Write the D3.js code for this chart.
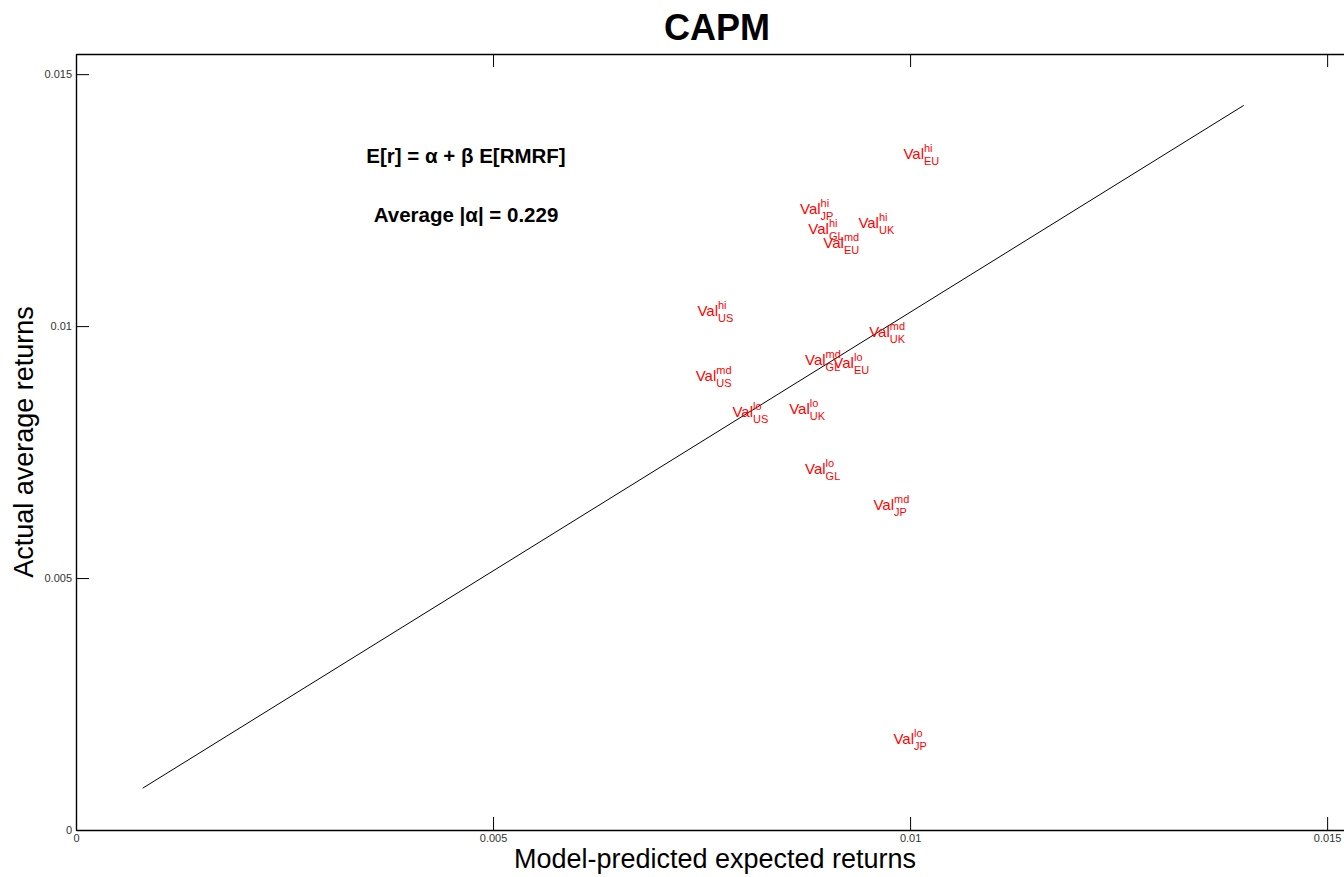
<!DOCTYPE html>
<html>
<head>
<meta charset="utf-8">
<script src="https://cdn.jsdelivr.net/npm/d3@7"></script>
<style>
  html, body { margin: 0; background: #fff; overflow: hidden; }
  svg { display: block; overflow: hidden; font-family: "Liberation Sans", Arial, sans-serif; }
</style>
</head>
<body>
<svg id="chart"></svg>
<script>
// portfolio labels: Val^{tercile}_{region}
const regions   = ["EU", "JP", "GL", "UK", "EU", "US", "US", "US", "GL", "EU", "UK", "UK", "GL", "JP", "JP"];
const terciles  = ["hi", "hi", "hi", "hi", "md", "hi", "md", "lo", "md", "lo", "md", "lo", "lo", "md", "lo"];
// model-predicted (x) and actual average (y) returns
const predicted = [0.00992, 0.00868, 0.00878, 0.00938, 0.00896, 0.00745, 0.00743, 0.00787, 0.00874, 0.00908, 0.00951, 0.00855, 0.00874, 0.00956, 0.00980];
const actual    = [0.01343, 0.01233, 0.01193, 0.01205, 0.01166, 0.01031, 0.00901, 0.00830, 0.00933, 0.00927, 0.00989, 0.00836, 0.00717, 0.00645, 0.00182];
// fitted line endpoints
const lineX = [0.00080, 0.01400];
const lineY = [0.00083, 0.01438];
const xTicks = [0, 0.005, 0.01, 0.015];
const yTicks = [0, 0.005, 0.01, 0.015];

const width = 1344;
const height = 877;
const margin = {top: 54, left: 76};
const plotRight = 1358;
const plotBottom = 830;

const svg = d3.select('#chart')
  .attr('width', width)
  .attr('height', height);

const data = regions.map((r, i) => ({region: r, tercile: terciles[i], x: predicted[i], y: actual[i]}));

// scales
const xScale = d3.scaleLinear().domain([0, 0.01537]).range([margin.left, plotRight]);
const yScale = d3.scaleLinear().domain([0, 0.0154]).range([plotBottom, margin.top]);

const fmt = d => String(d);

// axes, ticks pointing inward
svg.append('g')
  .attr('transform', `translate(0, ${plotBottom})`)
  .call(d3.axisBottom(xScale).tickValues(xTicks).tickFormat(fmt).tickSize(-13).tickSizeOuter(0).tickPadding(4));

svg.append('g')
  .attr('transform', `translate(0, ${margin.top})`)
  .call(d3.axisTop(xScale).tickValues(xTicks).tickFormat('').tickSize(-13).tickSizeOuter(0));

svg.append('g')
  .attr('transform', `translate(${margin.left}, 0)`)
  .call(d3.axisLeft(yScale).tickValues(yTicks).tickFormat(fmt).tickSize(-13).tickSizeOuter(0).tickPadding(4));

svg.selectAll('.domain').attr('stroke', '#000').attr('stroke-width', 1.4);
svg.selectAll('.tick line').attr('stroke', '#000');
svg.selectAll('.tick text')
  .attr('fill', '#333')
  .style('font-size', '11px')
  .style('font-family', '"Liberation Sans", Arial, sans-serif');

// fitted line
svg.append('line')
  .attr('x1', xScale(lineX[0]))
  .attr('y1', yScale(lineY[0]))
  .attr('x2', xScale(lineX[1]))
  .attr('y2', yScale(lineY[1]))
  .attr('stroke', '#000')
  .attr('stroke-width', 1);

// portfolio labels
const labels = svg.selectAll('.lbl')
  .data(data)
  .enter().append('g')
  .attr('class', 'lbl')
  .attr('transform', d => `translate(${xScale(d.x)}, ${yScale(d.y)})`);

labels.each(function(d) {
  const g = d3.select(this);
  const base = g.append('text')
    .attr('x', 0)
    .attr('y', 5.5)
    .attr('fill', 'red')
    .style('font-size', '15px')
    .text('Val');
  const w = base.node().getComputedTextLength();
  g.append('text')
    .attr('x', w)
    .attr('y', -1.5)
    .attr('fill', 'red')
    .style('font-size', '11px')
    .text(d.tercile);
  g.append('text')
    .attr('x', w)
    .attr('y', 11.5)
    .attr('fill', 'red')
    .style('font-size', '11px')
    .text(d.region);
});

// annotations
svg.append('text')
  .attr('x', 466)
  .attr('y', 163)
  .attr('text-anchor', 'middle')
  .style('font-size', '20.5px')
  .style('font-weight', 'bold')
  .text('E[r] = α + β E[RMRF]');

svg.append('text')
  .attr('x', 466)
  .attr('y', 222)
  .attr('text-anchor', 'middle')
  .style('font-size', '20.5px')
  .style('font-weight', 'bold')
  .text('Average |α| = 0.229');

// title and axis labels
svg.append('text')
  .attr('x', 717)
  .attr('y', 40)
  .attr('text-anchor', 'middle')
  .style('font-size', '36px')
  .style('font-weight', 'bold')
  .text('CAPM');

svg.append('text')
  .attr('x', 715)
  .attr('y', 868)
  .attr('text-anchor', 'middle')
  .style('font-size', '27px')
  .text('Model-predicted expected returns');

svg.append('text')
  .attr('transform', `translate(33, ${(margin.top + plotBottom) / 2}) rotate(-90)`)
  .attr('text-anchor', 'middle')
  .style('font-size', '27px')
  .text('Actual average returns');
</script>
</body>
</html>
